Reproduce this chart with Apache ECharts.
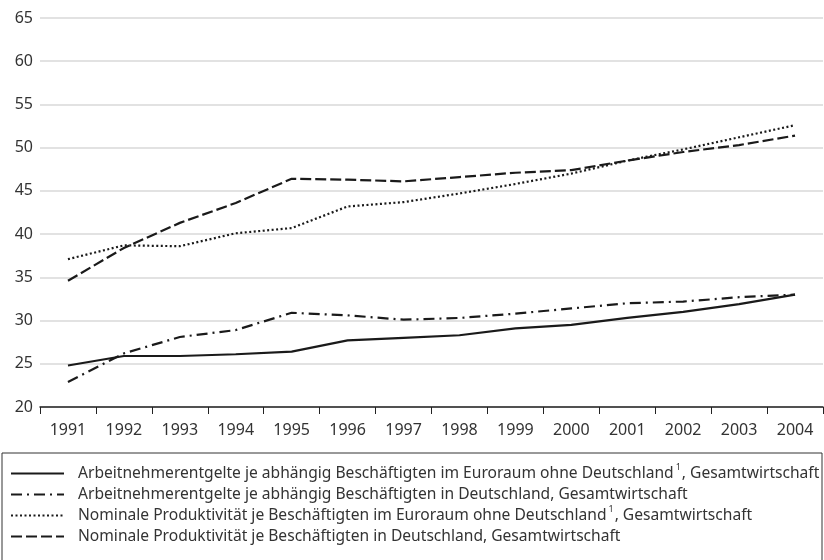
<!DOCTYPE html>
<html>
<head>
<meta charset="utf-8">
<script src="https://cdn.jsdelivr.net/npm/echarts@6/dist/echarts.min.js"></script>
<style>
    html, body { margin: 0; padding: 0; background: #fff; }
    #main { width: 824px; height: 560px; }
</style>
</head>
<body>
<div id="main"></div>
<script>
var years = ['1991', '1992', '1993', '1994', '1995', '1996', '1997', '1998', '1999', '2000', '2001', '2002', '2003', '2004'];

var lohnEuro = [24.8, 25.9, 25.9, 26.1, 26.4, 27.7, 28.0, 28.3, 29.1, 29.5, 30.3, 31.0, 31.9, 33.0];
var lohnDeutschland = [22.9, 26.2, 28.1, 28.9, 30.9, 30.6, 30.1, 30.3, 30.8, 31.4, 32.0, 32.2, 32.7, 33.0];
var prodEuro = [37.1, 38.7, 38.6, 40.1, 40.7, 43.2, 43.7, 44.7, 45.8, 47.0, 48.5, 49.8, 51.2, 52.6];
var prodDeutschland = [34.6, 38.4, 41.3, 43.6, 46.4, 46.3, 46.1, 46.6, 47.1, 47.4, 48.5, 49.5, 50.3, 51.4];

var names = [
    'Arbeitnehmerentgelte je abhängig Beschäftigten im Euroraum ohne Deutschland',
    'Arbeitnehmerentgelte je abhängig Beschäftigten in Deutschland',
    'Nominale Produktivität je Beschäftigten im Euroraum ohne Deutschland',
    'Nominale Produktivität je Beschäftigten in Deutschland'
];
var legendText = [
    'Arbeitnehmerentgelte je abhängig Beschäftigten im Euroraum ohne Deutschland{sup|1}, Gesamtwirtschaft',
    'Arbeitnehmerentgelte je abhängig Beschäftigten in Deutschland, Gesamtwirtschaft',
    'Nominale Produktivität je Beschäftigten im Euroraum ohne Deutschland{sup|1}, Gesamtwirtschaft',
    'Nominale Produktivität je Beschäftigten in Deutschland, Gesamtwirtschaft'
];

var yTicks = { min: 20, max: 65, step: 5 };

function lineSeries(name, data, dash) {
    return {
        name: name,
        type: 'line',
        data: data,
        symbol: 'none',
        lineStyle: { color: '#1a1a1a', width: 2.2, type: dash },
        itemStyle: { color: '#1a1a1a' }
    };
}

var myChart = echarts.init(document.getElementById('main'));
var option = {
    animation: false,
    textStyle: { fontFamily: 'Noto Sans' },
    grid: { left: 40, right: 1, top: 18, bottom: 153 },
    xAxis: {
        type: 'category',
        data: years,
        boundaryGap: true,
        axisLine: { lineStyle: { color: '#222', width: 1.5 } },
        axisTick: { show: true, length: 7, lineStyle: { color: '#222' } },
        axisLabel: { color: '#333', fontSize: 16, margin: 15 }
    },
    yAxis: {
        type: 'value',
        min: yTicks.min,
        max: yTicks.max,
        interval: yTicks.step,
        axisLine: { show: false },
        axisTick: { show: false },
        axisLabel: { color: '#333', fontSize: 16, margin: 7 },
        splitLine: { lineStyle: { color: '#d9d9d9', width: 1.5 } }
    },
    legend: {
        orient: 'vertical',
        left: 10,
        top: 463,
        padding: 0,
        itemWidth: 53,
        itemHeight: 14,
        itemGap: 0,
        data: names,
        itemStyle: { opacity: 0 },
        formatter: function (name) {
            return legendText[names.indexOf(name)];
        },
        textStyle: {
            color: '#333',
            fontSize: 15.6,
            lineHeight: 21,
            padding: [0, 0, 0, 9],
            rich: {
                sup: { fontSize: 9, lineHeight: 21, verticalAlign: 'top', padding: [0, 1, 0, 2], color: '#333' }
            }
        }
    },
    graphic: [{
        type: 'rect',
        shape: { x: 2, y: 453, width: 820, height: 140 },
        style: { fill: 'none', stroke: '#333', lineWidth: 1 }
    }],
    series: [
        lineSeries(names[0], lohnEuro, 'solid'),
        lineSeries(names[1], lohnDeutschland, [11, 5, 2, 5]),
        lineSeries(names[2], prodEuro, [2, 2.5]),
        lineSeries(names[3], prodDeutschland, [11, 4])
    ]
};
myChart.setOption(option);
</script>
</body>
</html>
